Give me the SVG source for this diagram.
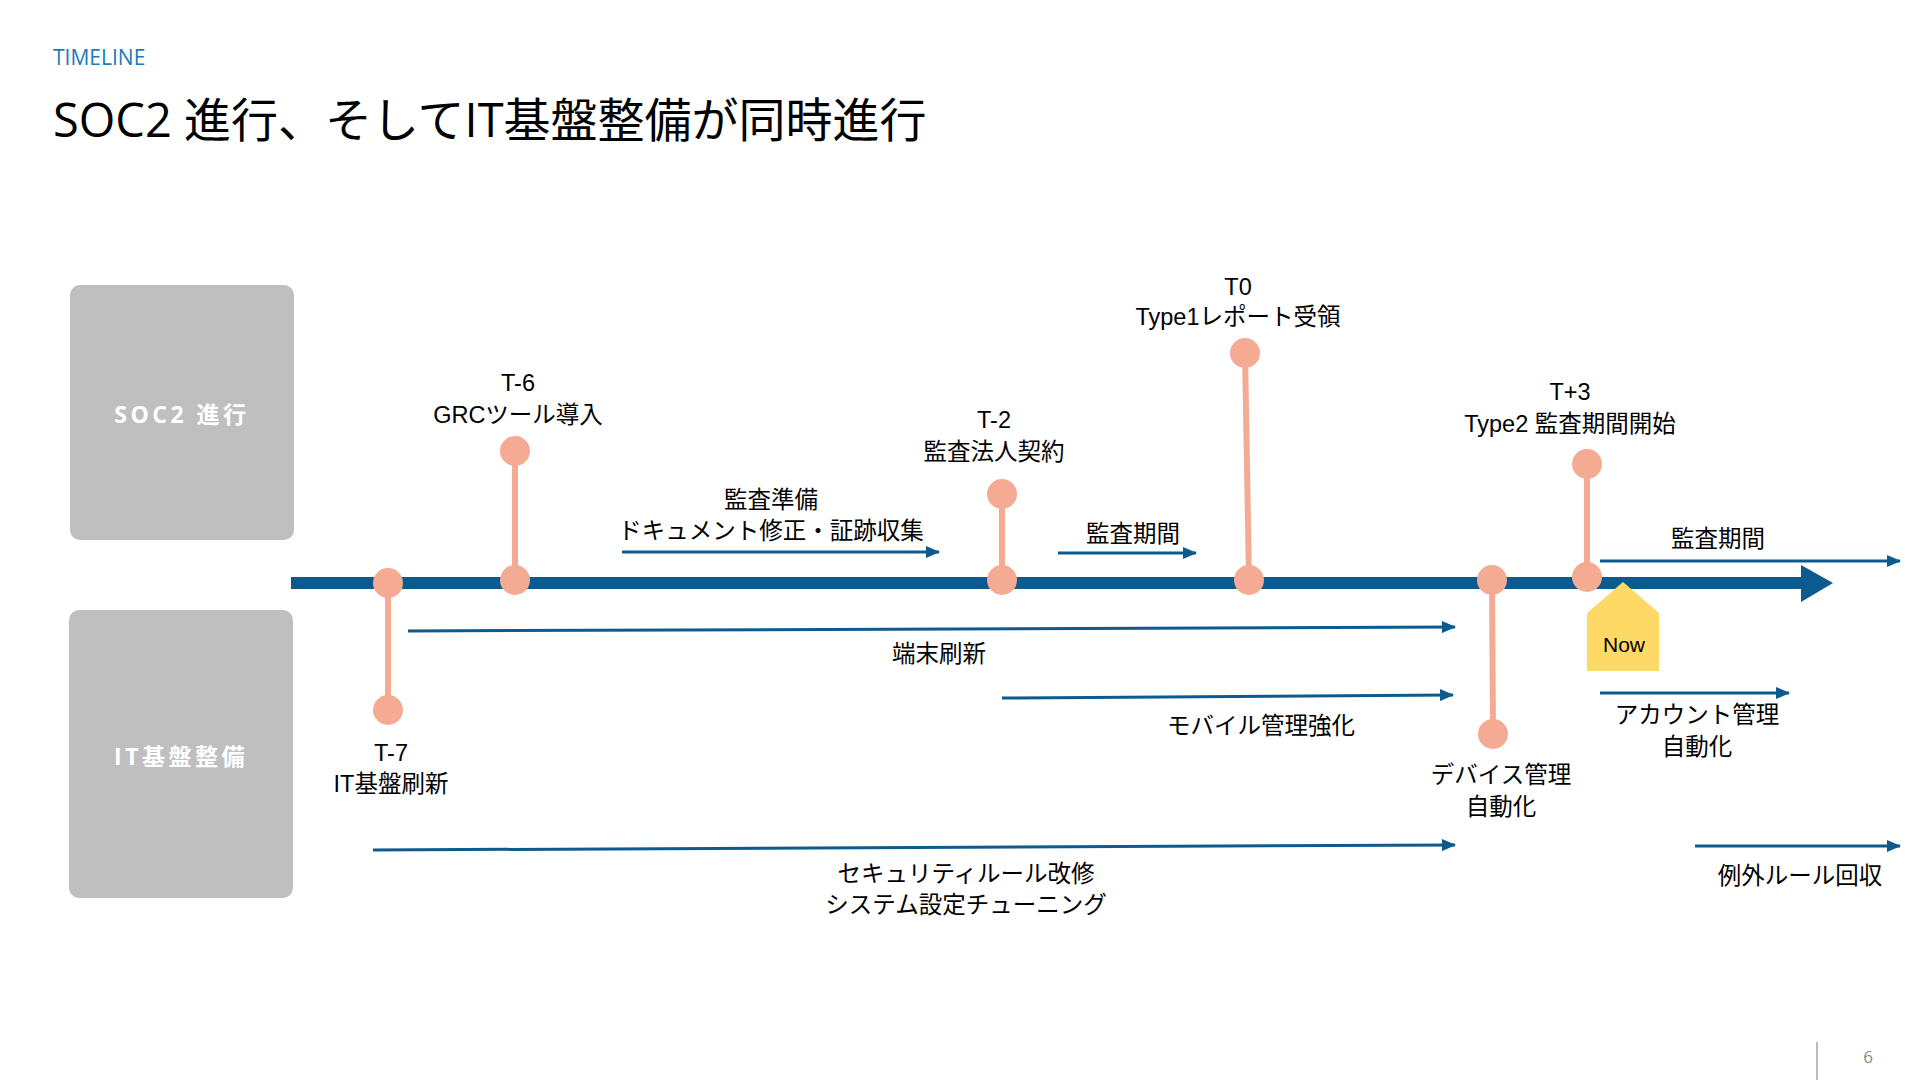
<svg xmlns="http://www.w3.org/2000/svg" width="1920" height="1080" viewBox="0 0 1920 1080">
<defs>
<marker id="ah" markerUnits="userSpaceOnUse" markerWidth="14" markerHeight="12" refX="13" refY="6" orient="auto">
<path d="M0,0 L14,6 L0,12 Z" fill="#0d5a8e"/>
</marker>
<style>
.lbl{font-family:"Liberation Sans","Noto Sans CJK JP",sans-serif;font-size:23.5px;fill:#000;text-anchor:middle}
.lane{font-family:"Open Sans","Noto Sans CJK JP",sans-serif;font-size:23px;font-weight:bold;fill:#fff;text-anchor:middle;letter-spacing:3.5px}
.box{fill:#bfbfbf}
.stem{stroke:#f4aa93;stroke-width:6}
.dot{fill:#f4aa93}
.arr{stroke:#0d5a8e;stroke-width:3;fill:none;marker-end:url(#ah)}
</style>
</defs>
<rect width="1920" height="1080" fill="#fff"/>
<text x="53" y="65" font-family="Open Sans,sans-serif" font-size="21" fill="#1e7ab8">TIMELINE</text>
<text x="53" y="137" font-family="'Open Sans','Noto Sans CJK JP',sans-serif" font-size="47" fill="#000">SOC2 進行、そしてIT基盤整備が同時進行</text>

<g id="lane-soc2">
<rect class="box" x="70" y="285" width="224" height="255" rx="10"/>
<text class="lane" x="182" y="423">SOC2 進行</text>
</g>
<g id="lane-it">
<rect class="box" x="69" y="610" width="224" height="288" rx="10"/>
<text class="lane" x="181" y="765">IT基盤整備</text>
</g>

<g id="timeline">
<rect x="291" y="577" width="1512" height="12" fill="#0d5a8e"/>
<path d="M1801,565 L1833,583 L1801,602 Z" fill="#0d5a8e"/>
</g>

<g id="connectors">
<line class="arr" x1="622" y1="552" x2="939" y2="552"/>
<line class="arr" x1="1058" y1="553" x2="1196" y2="553"/>
<line class="arr" x1="1600" y1="561" x2="1900" y2="561"/>
<line class="arr" x1="408" y1="631" x2="1455" y2="627"/>
<line class="arr" x1="1002" y1="698" x2="1453" y2="695"/>
<line class="arr" x1="1600" y1="693" x2="1789" y2="693"/>
<line class="arr" x1="373" y1="850" x2="1455" y2="845"/>
<line class="arr" x1="1695" y1="846" x2="1900" y2="846"/>
</g>

<g id="m-t7">
<line class="stem" x1="388" y1="583" x2="388" y2="710"/>
<circle class="dot" cx="388" cy="583" r="15"/>
<circle class="dot" cx="388" cy="710" r="15"/>
<text class="lbl" x="391" y="761">T-7</text>
<text class="lbl" x="391" y="792">IT基盤刷新</text>
</g>
<g id="m-t6">
<line class="stem" x1="515" y1="451" x2="515" y2="580"/>
<circle class="dot" cx="515" cy="451" r="15"/>
<circle class="dot" cx="515" cy="580" r="15"/>
<text class="lbl" x="518" y="391">T-6</text>
<text class="lbl" x="518" y="423">GRCツール導入</text>
</g>
<g id="m-t2">
<line class="stem" x1="1002" y1="494" x2="1002" y2="580"/>
<circle class="dot" cx="1002" cy="494" r="15"/>
<circle class="dot" cx="1002" cy="580" r="15"/>
<text class="lbl" x="994" y="428">T-2</text>
<text class="lbl" x="994" y="460">監査法人契約</text>
</g>
<g id="m-t0">
<line class="stem" x1="1245" y1="353" x2="1249" y2="580"/>
<circle class="dot" cx="1245" cy="353" r="15"/>
<circle class="dot" cx="1249" cy="580" r="15"/>
<text class="lbl" x="1238" y="295">T0</text>
<text class="lbl" x="1238" y="325">Type1レポート受領</text>
</g>
<g id="m-device">
<line class="stem" x1="1492" y1="580" x2="1493" y2="734"/>
<circle class="dot" cx="1492" cy="580" r="15"/>
<circle class="dot" cx="1493" cy="734" r="15"/>
<text class="lbl" x="1501" y="783">デバイス管理</text>
<text class="lbl" x="1501" y="815">自動化</text>
</g>
<g id="m-t3">
<line class="stem" x1="1587" y1="464" x2="1587" y2="577"/>
<circle class="dot" cx="1587" cy="464" r="15"/>
<circle class="dot" cx="1587" cy="577" r="15"/>
<text class="lbl" x="1570" y="400">T+3</text>
<text class="lbl" x="1570" y="432">Type2 監査期間開始</text>
</g>

<g id="now">
<path d="M1587,613 L1623,582 L1659,613 L1659,671 L1587,671 Z" fill="#ffd966"/>
<text x="1624" y="652" font-family="Liberation Sans,sans-serif" font-size="21" fill="#000" text-anchor="middle">Now</text>
</g>

<g id="labels">
<text class="lbl" x="771" y="508">監査準備</text>
<text class="lbl" x="771" y="539">ドキュメント修正・証跡収集</text>
<text class="lbl" x="1133" y="542">監査期間</text>
<text class="lbl" x="1718" y="547">監査期間</text>
<text class="lbl" x="939" y="662">端末刷新</text>
<text class="lbl" x="1261" y="734">モバイル管理強化</text>
<text class="lbl" x="1697" y="723">アカウント管理</text>
<text class="lbl" x="1697" y="755">自動化</text>
<text class="lbl" x="966" y="882">セキュリティルール改修</text>
<text class="lbl" x="966" y="913">システム設定チューニング</text>
<text class="lbl" x="1800" y="884">例外ルール回収</text>
</g>

<g id="footer">
<line x1="1817" y1="1042" x2="1817" y2="1080" stroke="#a6a6a6" stroke-width="1.5"/>
<text x="1868" y="1063" font-family="Open Sans,sans-serif" font-size="17" fill="#8c8c8c" text-anchor="middle">6</text>
</g>
</svg>
